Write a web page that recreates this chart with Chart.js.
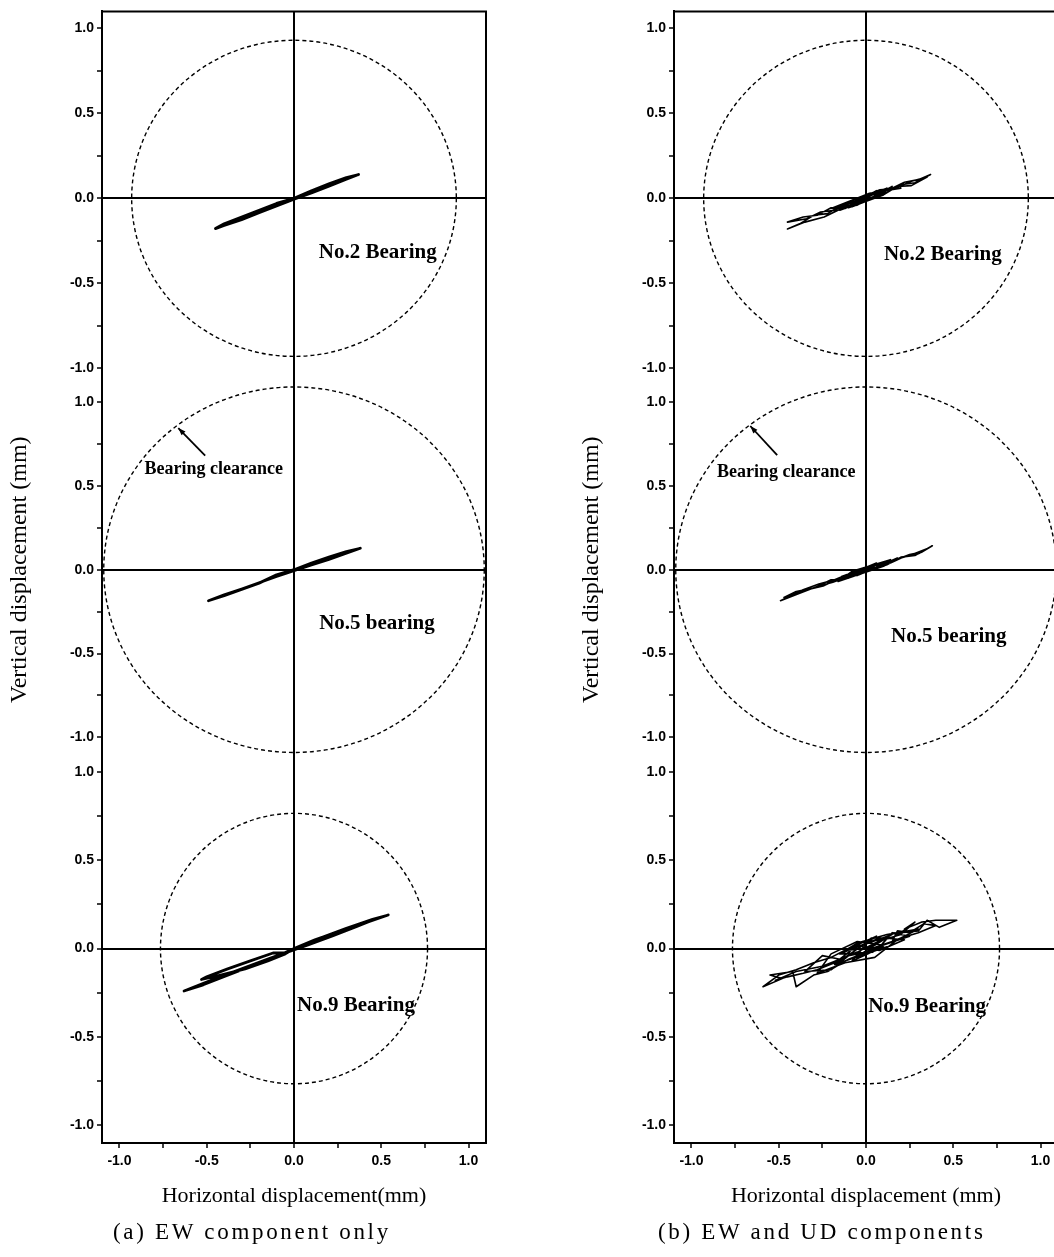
<!DOCTYPE html>
<html>
<head>
<meta charset="utf-8">
<script src="https://cdn.jsdelivr.net/npm/chart.js@4.4.1/dist/chart.umd.min.js"></script>
<style>
html, body { margin: 0; padding: 0; background: #fff; overflow: hidden; }
body { width: 1054px; height: 1257px; position: relative; }
canvas { position: absolute; top: 0; }
.cap { position: absolute; top: 1219px; font-family: 'Liberation Serif', serif; font-size: 23px; letter-spacing: 2.7px; color: #000; white-space: pre; }
</style>
</head>
<body>
<canvas id="chartA" width="500" height="1257" style="left:0"></canvas>
<canvas id="chartB" width="500" height="1257" style="left:572px"></canvas>
<div class="cap" style="left:113px">(a) EW component only</div>
<div class="cap" style="left:658px">(b) EW and UD components</div>
<script>
// axis range & ticks (mm)
const axisMin = -1.1;
const axisMax = 1.1;
const tickStep = 0.25;

// bearing clearance radius (mm): No.2, No.5, No.9
const clearance = [0.93, 1.09, 0.765];
const bearingNames = ['No.2 Bearing', 'No.5 bearing', 'No.9 Bearing'];

// (a) EW component only - orbits
const ewNo2X = [0.00, 0.10, 0.20, 0.30, 0.37, 0.30, 0.20, 0.10, 0.00, -0.10, -0.20, -0.30, -0.40, -0.45, -0.40, -0.30, -0.20, -0.10, 0.00];
const ewNo2Y = [0.00, 0.045, 0.085, 0.122, 0.140, 0.112, 0.072, 0.032, -0.005, -0.045, -0.085, -0.125, -0.160, -0.178, -0.150, -0.110, -0.070, -0.030, 0.00];

const ewNo5X = [0.00, 0.10, 0.20, 0.30, 0.38, 0.30, 0.20, 0.10, 0.00, -0.10, -0.20, -0.30, -0.40, -0.49, -0.40, -0.30, -0.20, -0.10, 0.00];
const ewNo5Y = [0.00, 0.040, 0.075, 0.108, 0.128, 0.098, 0.062, 0.028, -0.005, -0.040, -0.078, -0.115, -0.150, -0.185, -0.155, -0.118, -0.080, -0.030, 0.00];

const ewNo9X = [0.00, 0.15, 0.30, 0.45, 0.54, 0.42, 0.28, 0.12, 0.00, -0.15, -0.30, -0.45, -0.58, -0.63, -0.52, -0.38, -0.22, -0.10, 0.00, 0.12, 0.25, 0.38, 0.46, 0.36, 0.22, 0.08, -0.05, -0.12, -0.25, -0.38, -0.50, -0.53, -0.42, -0.28, -0.15, -0.05, 0.00];
const ewNo9Y = [0.00, 0.060, 0.115, 0.165, 0.190, 0.150, 0.098, 0.040, -0.005, -0.060, -0.115, -0.170, -0.220, -0.240, -0.205, -0.150, -0.090, -0.045, 0.000, 0.050, 0.095, 0.140, 0.165, 0.125, 0.072, 0.020, -0.025, -0.025, -0.070, -0.115, -0.160, -0.175, -0.150, -0.115, -0.070, -0.030, 0.00];

// (b) EW and UD components - orbits
const udNo2X = [0.00, 0.08, 0.15, 0.22, 0.30, 0.37, 0.28, 0.20, 0.12, 0.05, -0.02, -0.10, -0.18, -0.26, -0.34, -0.45, -0.36, -0.28, -0.20, -0.12, -0.05, 0.03, 0.10, 0.18, 0.26, 0.35, 0.26, 0.17, 0.08, 0.00, -0.08, -0.15, -0.22, -0.30, -0.38, -0.45, -0.35, -0.24, -0.14, -0.06, 0.04, 0.10, 0.02, -0.08, -0.04, 0.12, -0.10, -0.15, 0.06, 0.15, -0.05, -0.20, 0.02, 0.20, 0.08, -0.12, 0.06, -0.06, 0.10, -0.10, 0.04, -0.14, 0.08, 0.00];
const udNo2Y = [0.00, 0.045, 0.060, 0.095, 0.110, 0.140, 0.092, 0.080, 0.035, 0.030, -0.015, -0.020, -0.070, -0.080, -0.120, -0.140, -0.110, -0.100, -0.055, -0.060, -0.010, 0.025, 0.020, 0.070, 0.075, 0.125, 0.100, 0.060, 0.040, 0.010, -0.040, -0.045, -0.090, -0.100, -0.150, -0.180, -0.140, -0.110, -0.060, -0.030, 0.030, 0.030, -0.010, -0.050, -0.010, 0.060, -0.020, -0.070, 0.010, 0.070, -0.040, -0.060, 0.030, 0.060, 0.050, -0.060, 0.045, -0.035, 0.020, -0.055, 0.000, -0.040, 0.050, 0.00];

const udNo5X = [0.00, 0.08, 0.16, 0.25, 0.32, 0.38, 0.30, 0.22, 0.14, 0.06, -0.02, -0.10, -0.18, -0.27, -0.36, -0.49, -0.38, -0.28, -0.19, -0.10, -0.03, 0.05, 0.12, 0.20, 0.28, 0.36, 0.25, 0.15, 0.06, -0.04, -0.12, -0.20, -0.30, -0.40, -0.47, -0.36, -0.24, -0.13, -0.05, 0.04, 0.14, -0.08, -0.16, 0.10, 0.18, -0.04, -0.22, 0.06, -0.10, 0.12, -0.14, 0.02, 0.00];
const udNo5Y = [0.00, 0.040, 0.055, 0.090, 0.105, 0.143, 0.095, 0.078, 0.040, 0.030, -0.015, -0.025, -0.060, -0.085, -0.120, -0.185, -0.140, -0.100, -0.075, -0.040, -0.020, 0.025, 0.030, 0.075, 0.085, 0.130, 0.085, 0.055, 0.015, -0.005, -0.055, -0.060, -0.110, -0.130, -0.165, -0.125, -0.095, -0.040, -0.035, 0.020, 0.060, -0.010, -0.070, 0.020, 0.070, -0.030, -0.080, 0.040, -0.050, 0.030, -0.040, 0.020, 0.00];

const udNo9X = [0.00, 0.10, 0.20, 0.28, 0.22, 0.32, 0.40, 0.52, 0.42, 0.35, 0.30, 0.20, 0.26, 0.15, 0.05, -0.05, -0.12, -0.20, -0.30, -0.40, -0.50, -0.59, -0.48, -0.55, -0.42, -0.40, -0.30, -0.22, -0.10, -0.02, 0.06, 0.15, 0.18, 0.25, 0.33, 0.40, 0.30, 0.20, 0.10, 0.00, -0.10, -0.18, -0.28, -0.36, -0.45, -0.52, -0.40, -0.25, -0.15, -0.05, 0.05, 0.12, 0.08, 0.15, 0.25, 0.10, -0.05, -0.20, -0.28, -0.12, 0.05, 0.18, 0.30, 0.12, -0.02, -0.15, -0.25, -0.35, -0.20, -0.05, 0.08, 0.22, 0.10, 0.03, -0.08, 0.10, -0.12, 0.06, -0.18, 0.12, -0.06, 0.15, -0.10, 0.08, -0.15, 0.04, -0.04, 0.00];
const udNo9Y = [0.00, 0.050, 0.080, 0.150, 0.110, 0.150, 0.160, 0.160, 0.120, 0.160, 0.100, 0.090, 0.130, 0.060, 0.045, 0.030, -0.010, -0.050, -0.080, -0.120, -0.150, -0.216, -0.170, -0.150, -0.130, -0.216, -0.150, -0.130, -0.060, -0.030, 0.010, 0.040, 0.100, 0.090, 0.140, 0.130, 0.090, 0.060, 0.020, -0.020, -0.040, -0.080, -0.120, -0.140, -0.160, -0.180, -0.130, -0.100, -0.060, -0.020, 0.030, 0.060, 0.010, 0.090, 0.070, 0.020, 0.040, -0.030, -0.140, -0.080, -0.050, 0.050, 0.110, 0.080, 0.040, -0.060, -0.040, -0.130, -0.120, 0.000, -0.010, 0.050, 0.060, 0.060, -0.070, 0.010, -0.010, 0.070, -0.090, 0.010, -0.050, 0.080, -0.010, 0.060, -0.030, -0.020, 0.020, 0.00];

// relative heights of the three stacked sub plots (top -> bottom)
const stackWeights = [374, 369, 389];

const tickFont = { family: "'Liberation Sans', Arial, sans-serif", size: 14, weight: 'bold' };
const titleFamily = "'Liberation Serif', 'Times New Roman', serif";

const isHalf = v => Math.abs(v * 2 - Math.round(v * 2)) < 1e-6;
const zeroColor = c => (c.tick && Math.abs(c.tick.value) < 1e-9) ? '#000' : 'rgba(0,0,0,0)';

function toPoints(xs, ys) {
    return xs.map((x, i) => ({ x: x, y: ys[i] }));
}

//one y axis per bearing, stacked on the left
function yScale(i) {
    return {
        type: 'linear',
        position: 'left',
        stack: 'bearings',
        stackWeight: stackWeights[i],
        min: axisMin,
        max: axisMax,
        afterFit: s => { s.width = 102; },
        ticks: {
            stepSize: tickStep,
            includeBounds: false,
            autoSkip: false,
            padding: 3,
            color: '#000',
            font: tickFont,
            callback: v => isHalf(v) ? v.toFixed(1) : ''
        },
        grid: {
            drawOnChartArea: true,
            color: zeroColor,
            lineWidth: 2,
            tickColor: '#000',
            tickLength: 5,
            tickWidth: 1.5
        },
        border: { display: true, color: '#000', width: 2 },
        title: {
            display: i === 1,
            text: 'Vertical displacement (mm)',
            color: '#000',
            font: { family: titleFamily, size: 24 },
            padding: { top: 5, bottom: 0 }
        }
    };
}

//clearance circles, frame, labels and arrow
const bearingDecor = {
    id: 'bearingDecor',
    beforeDatasetsDraw(chart) {
        const { ctx, scales } = chart;
        const xs = scales.x;
        ctx.save();
        ctx.strokeStyle = '#000';
        ctx.lineWidth = 1.4;
        ctx.setLineDash([4, 3]);
        clearance.forEach((r, i) => {
            const ys = scales['y' + i];
            const cx = xs.getPixelForValue(0);
            const cy = ys.getPixelForValue(0);
            const rx = xs.getPixelForValue(r) - cx;
            const ry = cy - ys.getPixelForValue(r);
            ctx.beginPath();
            ctx.ellipse(cx, cy, rx, ry, 0, 0, Math.PI * 2);
            ctx.stroke();
        });
        ctx.restore();
    },
    afterDraw(chart, args, opts) {
        const { ctx, chartArea: a, scales } = chart;
        const xs = scales.x;
        ctx.save();
        //frame top + right
        ctx.strokeStyle = '#000';
        ctx.lineWidth = 2;
        ctx.beginPath();
        ctx.moveTo(a.left, a.top);
        ctx.lineTo(a.right, a.top);
        ctx.lineTo(a.right, a.bottom);
        ctx.stroke();
        //bearing names
        ctx.fillStyle = '#000';
        ctx.textAlign = 'center';
        ctx.textBaseline = 'middle';
        ctx.font = 'bold 21px ' + titleFamily;
        opts.names.forEach((p, i) => {
            const ys = scales['y' + i];
            ctx.fillText(bearingNames[i], xs.getPixelForValue(p[0]), ys.getPixelForValue(p[1]));
        });
        //clearance note + arrow
        const ym = scales.y1;
        ctx.font = 'bold 18px ' + titleFamily;
        ctx.fillText('Bearing clearance', xs.getPixelForValue(opts.note[0]), ym.getPixelForValue(opts.note[1]));
        const x1 = xs.getPixelForValue(opts.arrow[0]), y1 = ym.getPixelForValue(opts.arrow[1]);
        const x2 = xs.getPixelForValue(opts.arrow[2]), y2 = ym.getPixelForValue(opts.arrow[3]);
        ctx.lineWidth = 1.8;
        ctx.beginPath();
        ctx.moveTo(x1, y1);
        ctx.lineTo(x2, y2);
        ctx.stroke();
        const ang = Math.atan2(y2 - y1, x2 - x1);
        ctx.beginPath();
        ctx.moveTo(x2, y2);
        ctx.lineTo(x2 - 8 * Math.cos(ang - 0.35), y2 - 8 * Math.sin(ang - 0.35));
        ctx.lineTo(x2 - 8 * Math.cos(ang + 0.35), y2 - 8 * Math.sin(ang + 0.35));
        ctx.closePath();
        ctx.fill();
        ctx.restore();
    }
};

function orbitSet(xs, ys, axis, width) {
    return {
        data: toPoints(xs, ys),
        yAxisID: axis,
        showLine: true,
        borderColor: '#000',
        borderWidth: width,
        borderJoinStyle: 'round',
        pointRadius: 0,
        tension: 0,
        fill: false
    };
}

function drawPanel(canvasId, orbits, width, xTitle, deco) {
    return new Chart(document.getElementById(canvasId), {
        type: 'scatter',
        data: {
            datasets: orbits.map((o, i) => orbitSet(o[0], o[1], 'y' + i, width))
        },
        options: {
            responsive: false,
            animation: false,
            layout: { padding: { top: 10, right: 14, left: 0, bottom: 0 } },
            plugins: {
                legend: { display: false },
                tooltip: { enabled: false },
                bearingDecor: deco
            },
            scales: {
                x: {
                    type: 'linear',
                    position: 'bottom',
                    min: axisMin,
                    max: axisMax,
                    afterFit: s => { s.height = 114; },
                    ticks: {
                        stepSize: tickStep,
                        includeBounds: false,
                        autoSkip: false,
                        maxRotation: 0,
                        padding: 5,
                        color: '#000',
                        font: tickFont,
                        callback: v => isHalf(v) ? v.toFixed(1) : ''
                    },
                    grid: {
                        drawOnChartArea: true,
                        color: zeroColor,
                        lineWidth: 2,
                        tickColor: '#000',
                        tickLength: 5,
                        tickWidth: 1.5
                    },
                    border: { display: true, color: '#000', width: 2 },
                    title: {
                        display: true,
                        text: xTitle,
                        color: '#000',
                        font: { family: titleFamily, size: 22 },
                        padding: { top: 0, bottom: 48 }
                    }
                },
                y2: yScale(2),
                y1: yScale(1),
                y0: yScale(0)
            }
        },
        plugins: [bearingDecor]
    });
}

drawPanel('chartA',
    [[ewNo2X, ewNo2Y], [ewNo5X, ewNo5Y], [ewNo9X, ewNo9Y]],
    2.8,
    'Horizontal displacement(mm)',
    {
        names: [[0.48, -0.32], [0.475, -0.32], [0.355, -0.32]],
        note: [-0.46, 0.60],
        arrow: [-0.509, 0.68, -0.663, 0.845]
    });

drawPanel('chartB',
    [[udNo2X, udNo2Y], [udNo5X, udNo5Y], [udNo9X, udNo9Y]],
    1.6,
    'Horizontal displacement (mm)',
    {
        names: [[0.44, -0.33], [0.474, -0.40], [0.35, -0.33]],
        note: [-0.457, 0.583],
        arrow: [-0.509, 0.684, -0.663, 0.857]
    });
</script>
</body>
</html>
